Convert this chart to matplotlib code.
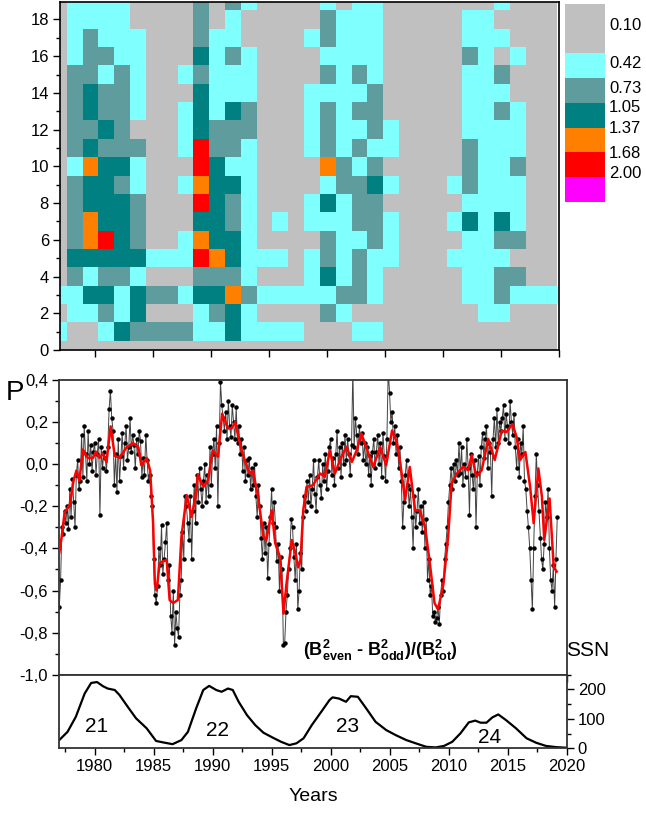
import numpy as np
import matplotlib
matplotlib.use('Agg')
import matplotlib.pyplot as plt
from matplotlib.colors import ListedColormap, BoundaryNorm
from matplotlib.ticker import MultipleLocator, FuncFormatter

plt.rcParams['font.family'] = ['Liberation Sans', 'DejaVu Sans']
plt.rcParams['mathtext.fontset'] = 'custom'
plt.rcParams['mathtext.rm'] = 'Liberation Sans'
plt.rcParams['mathtext.bf'] = 'Liberation Sans:bold'
plt.rcParams['mathtext.it'] = 'Liberation Sans:italic'

# ------------------------------------------------------------------ data
level_bounds = [0.10, 0.42, 0.73, 1.05, 1.37, 1.68, 2.00, 2.32]
level_labels = ['0.10', '0.42', '0.73', '1.05', '1.37', '1.68', '2.00']
level_colors = ['#c0c0c0', '#80ffff', '#5f9c9e', '#008080', '#ff8000', '#ff0000', '#ff00ff']
code_value = {'G': 0.26, 'C': 0.57, 'S': 0.89, 'T': 1.21, 'O': 1.52, 'R': 1.84, 'M': 2.16}

# rows from bottom (0) to top (19); 32 time bins each
heat_rows = [
    "GGGGGGGGGGGGGGGGGGGGGGGGGGGGGGGG",  # 0
    "CGGCTSSSSCCTCCCCGGGCCGGGGGGGGGGG",  # 1
    "GCCSCTGGGCSTCGGGGSCGGGGGGGGCCGGG",  # 2
    "CCTTCTSSCTTOSCCCCCSSCGGGGGCCSCCC",  # 3
    "GSCSSCGGGSSSCGGGCTCSCGGGGGCCSSGG",  # 4
    "GTTTTTCCCROTCCCGCSCSCCGGGCCCCGGG",  # 5
    "GSORTSGGCOTTCGGGGSCCSCGGGGCCSSGG",  # 6
    "GSOTTSGGGTTSCGCGCCCSSCGGGCTCTCGG",  # 7
    "GSTTTSGGGRTSCGGGCTCSSGGGGGCCCCGG",  # 8
    "GSTTSCGGCOTTCGGGGCSSTCGGGCSCCCGG",  # 9
    "GCOTTCGGGRTCCGGGGOSCSGGGGGSCCSGG",  # 10
    "GSTSSSGGCRSSCGGGCSCSCCGGGGSCCCGG",  # 11
    "GSSTSGGGCTSSSGGGCSCCSCGGGGCCCCGG",  # 12
    "GSTSSCGGCTCTSGGGCSCSSGGGGGCCSCGG",  # 13
    "GSTSSCGGGTCCCGGGCCCCSGGGGGCCCGGG",  # 14
    "GSSCSCGGCSCCCGGGGSCSCGGGGGCCSGGG",  # 15
    "GCSSCCGGGTCSCGGGGCCCCGGGGGSCGCGG",  # 16
    "GCSCCCGGGSCCGGGGCSCCCGGGGGCCCGGG",  # 17
    "GCCCCGGGGSGCGGGGGSCCCGGGGGCCGGGG",  # 18
    "GCCCCGGGGSGSCGGGGCGCCGGGGGGGCGGG",  # 19
]
heat_first_edge = 1976.215   # year of the left edge of the first bin
heat_bin_width = 1.3652      # years per bin

# P = (B2even - B2odd)/B2tot, raw values (about 9 per year, 1977.0 .. 2019.2)
p_raw = [
    -0.68, -0.55, -0.30, -0.33, -0.22, -0.28, -0.20, -0.31, -0.12,   # 1977
    -0.25, -0.07, -0.18, -0.30, -0.05, 0.02, -0.12, -0.08, 0.14,     # 1978
    -0.06, 0.18, 0.05, -0.08, 0.16, 0.00, 0.09, -0.03, 0.06,         # 1979
    0.10, -0.05, 0.05, 0.12, -0.24, 0.08, -0.02, 0.06, 0.03,         # 1980
    -0.03, 0.08, 0.26, 0.35, 0.22, 0.16, -0.10, 0.05, -0.13,         # 1981
    0.12, -0.08, 0.04, 0.15, -0.02, 0.10, 0.18, 0.02, 0.08,          # 1982
    0.22, 0.06, 0.14, 0.09, -0.02, 0.12, 0.05, 0.16, 0.11,           # 1983
    -0.06, 0.03, -0.05, 0.14, 0.02, -0.08, -0.05, -0.15, -0.20,      # 1984
    -0.45, -0.62, -0.66, -0.58, -0.40, -0.48, -0.29, -0.52, -0.45,   # 1985
    -0.37, -0.28, -0.55, -0.48, -0.72, -0.80, -0.60, -0.86, -0.70,   # 1986
    -0.78, -0.82, -0.62, -0.55, -0.32, -0.45, -0.15, -0.20, -0.28,   # 1987
    -0.36, -0.15, -0.45, -0.22, -0.10, -0.28, -0.05, -0.18, -0.02,   # 1988
    -0.12, -0.20, -0.08, 0.00, -0.18, -0.05, -0.15, 0.08, -0.10,     # 1989
    0.05, 0.12, -0.02, 0.18, -0.20, 0.10, 0.39, 0.28, 0.22,          # 1990
    0.16, 0.25, 0.12, 0.30, 0.18, 0.13, 0.28, 0.20, 0.12,            # 1991
    0.27, 0.10, 0.18, 0.05, 0.12, -0.03, 0.08, -0.08, 0.02,          # 1992
    -0.05, 0.03, -0.12, -0.02, -0.10, 0.00, -0.15, -0.25, -0.10,     # 1993
    -0.20, -0.35, -0.45, -0.28, -0.42, -0.30, -0.54, -0.38, -0.25,   # 1994
    -0.12, -0.28, -0.18, -0.30, -0.46, -0.38, -0.60, -0.44, -0.50,   # 1995
    -0.86, -0.85, -0.70, -0.62, -0.50, -0.40, -0.26, -0.30, -0.44,   # 1996
    -0.55, -0.38, -0.69, -0.60, -0.42, -0.50, -0.25, -0.15, -0.22,   # 1997
    -0.08, -0.18, -0.05, -0.20, -0.12, 0.02, -0.14, -0.22, -0.06,    # 1998
    0.02, -0.10, -0.16, 0.00, -0.08, 0.05, -0.12, -0.03, 0.08,       # 1999
    0.12, -0.05, 0.03, -0.10, 0.05, 0.16, -0.02, 0.08, -0.06,        # 2000
    0.10, 0.00, 0.14, 0.02, 0.12, 0.05, -0.05, 0.09, 0.45,           # 2001
    0.08, 0.22, 0.14, 0.05, 0.18, 0.10, 0.15, 0.02, 0.10,            # 2002
    0.00, 0.08, -0.05, 0.04, -0.10, 0.06, 0.12, -0.02, 0.06,         # 2003
    0.14, 0.00, 0.10, -0.06, 0.15, 0.04, -0.08, 0.12, 0.45,          # 2004
    0.34, 0.20, 0.25, 0.10, 0.18, 0.05, 0.14, -0.02, 0.08,           # 2005
    -0.08, -0.30, -0.18, -0.05, 0.02, -0.10, -0.20, -0.12, -0.25,    # 2006
    -0.40, -0.15, -0.30, -0.22, -0.12, -0.28, -0.20, -0.32, -0.18,   # 2007
    -0.40, -0.26, -0.55, -0.45, -0.62, -0.58, -0.72, -0.70, -0.75,   # 2008
    -0.73, -0.68, -0.76, -0.62, -0.55, -0.60, -0.45, -0.38, -0.30,   # 2009
    -0.18, -0.10, -0.02, -0.12, 0.00, -0.08, 0.02, -0.05, 0.10,      # 2010
    -0.04, 0.08, -0.10, 0.00, -0.06, 0.12, -0.02, -0.24, 0.05,       # 2011
    -0.05, -0.12, 0.02, -0.30, -0.04, 0.04, -0.10, 0.08, 0.15,       # 2012
    0.03, 0.12, 0.18, -0.02, 0.10, 0.06, -0.15, 0.12, 0.22,          # 2013
    0.08, 0.26, 0.10, 0.20, 0.16, 0.22, 0.28, 0.12, 0.24,            # 2014
    0.18, 0.10, 0.30, 0.20, 0.14, 0.24, 0.08, -0.02, 0.12,           # 2015
    -0.06, 0.10, 0.05, 0.18, -0.08, -0.12, -0.22, -0.30, -0.40,      # 2016
    -0.55, -0.69, -0.40, -0.15, 0.05, -0.10, -0.22, -0.35, -0.45,    # 2017
    -0.50, -0.38, -0.18, -0.25, -0.12, -0.40, -0.55, -0.60, -0.48,   # 2018
    -0.68, -0.45, -0.25,                                             # 2019
]
p_start, p_end = 1977.0, 2019.2

# smoothed P (red curve)
red_years = [1977.0, 1977.2, 1977.45, 1977.9, 1978.2, 1978.45, 1978.7, 1979.0, 1979.4,
             1979.85, 1980.1, 1980.4, 1980.7, 1981.0, 1981.35, 1981.7, 1982.1, 1982.7,
             1983.25, 1983.7, 1983.95, 1984.4, 1984.7, 1984.95, 1985.1, 1985.25, 1985.5,
             1985.8, 1986.1, 1986.35, 1986.65, 1987.05, 1987.35, 1987.8, 1988.2, 1988.5,
             1988.75, 1989.2, 1989.6, 1990.0, 1990.45, 1990.8, 1991.3, 1991.6, 1991.9,
             1992.45, 1992.9, 1993.15, 1993.4, 1993.85, 1994.3, 1994.55, 1995.0, 1995.3,
             1995.7, 1996.0, 1996.25, 1996.7, 1996.95, 1997.25, 1997.45, 1997.67, 1997.95,
             1998.5, 1999.1, 1999.5, 1999.93, 2000.36, 2000.9, 2001.35, 2001.8, 2002.2,
             2002.6, 2003.05, 2003.6, 2004.2, 2004.7, 2005.2, 2005.6, 2005.9, 2006.3,
             2006.7, 2007.15, 2007.55, 2008.0, 2008.4, 2008.8, 2009.1, 2009.55, 2009.95,
             2010.25, 2010.7, 2011.2, 2011.65, 2011.95, 2012.35, 2012.8, 2013.35, 2013.9,
             2014.5, 2014.9, 2015.4, 2015.75, 2016.05, 2016.5, 2016.9, 2017.2, 2017.6,
             2017.9, 2018.1, 2018.55, 2018.9, 2019.15]
red_vals = [-0.42, -0.345, -0.23, -0.19, -0.08, -0.03, -0.08, 0.07, 0.03,
            0.03, 0.06, 0.03, 0.05, 0.01, 0.18, 0.04, 0.03, 0.08,
            0.10, 0.08, -0.005, 0.03, -0.03, -0.28, -0.57, -0.60, -0.47,
            -0.46, -0.455, -0.645, -0.66, -0.645, -0.345, -0.147, -0.25, -0.17,
            -0.05, -0.108, -0.076, 0.066, 0.035, 0.24, 0.17, 0.17, 0.20,
            0.066, -0.013, -0.044, -0.03, -0.155, -0.345, -0.36, -0.22, -0.376,
            -0.44, -0.71, -0.57, -0.36, -0.41, -0.49, -0.45, -0.22, -0.108,
            -0.10, -0.044, -0.06, 0.066, -0.044, 0.035, 0.082, 0.011, 0.066,
            0.146, 0.075, -0.013, 0.082, -0.005, 0.16, 0.106, 0.003, -0.17,
            -0.013, -0.22, -0.22, -0.30, -0.47, -0.66, -0.69, -0.57, -0.345,
            -0.09, -0.044, -0.013, -0.028, 0.043, -0.06, -0.028, 0.12, 0.02,
            0.16, 0.153, 0.19, 0.13, 0.02, 0.058, -0.108, -0.28, -0.02,
            -0.155, -0.36, -0.163, -0.49, -0.51]

# smoothed sunspot number
ssn_years = [1977.0, 1977.7, 1978.4, 1979.15, 1979.7, 1980.2, 1980.7, 1981.1, 1981.7, 1982.1,
             1982.8, 1983.5, 1984.4, 1985.2, 1985.8, 1986.6, 1987.35, 1987.9, 1988.6, 1989.2,
             1989.7, 1990.3, 1990.75, 1991.3, 1991.7, 1992.2, 1992.9, 1993.6, 1994.3, 1995.1,
             1995.8, 1996.5, 1997.1, 1997.7, 1998.4, 1999.2, 1999.9, 2000.16, 2000.7, 2001.3,
             2001.7, 2002.3, 2003.0, 2003.8, 2004.7, 2005.5, 2006.4, 2007.2, 2008.1, 2008.9,
             2009.6, 2010.3, 2011.0, 2011.7, 2012.25, 2012.7, 2013.2, 2013.7, 2014.2, 2014.85,
             2015.7, 2016.6, 2017.4, 2018.25, 2019.1, 2019.95]
ssn_vals = [28, 56, 107, 186, 222, 225, 211, 203, 198, 181,
            141, 102, 68, 25, 20, 14, 28, 56, 136, 198,
            212, 198, 192, 203, 198, 158, 113, 79, 53, 36,
            22, 11, 17, 34, 79, 124, 164, 173, 169, 158,
            177, 175, 136, 90, 62, 45, 28, 17, 5, 3,
            8, 22, 51, 88, 94, 87, 87, 105, 115, 96,
            68, 34, 19, 8, 4, 2]

cycle_names = ['21', '22', '23', '24']
cycle_x = [1980.2, 1990.4, 2001.4, 2013.5]
cycle_y = [73, 62, 75, 37]

x_ticks = [1980, 1985, 1990, 1995, 2000, 2005, 2010, 2015, 2020]

# ------------------------------------------------------------------ figure
W, H = 646, 813
fig = plt.figure(figsize=(W / 100, H / 100), dpi=100)

def box(l, t, r, b):
    return [l / W, 1 - b / H, (r - l) / W, (b - t) / H]

cmap = ListedColormap(level_colors)
norm = BoundaryNorm(level_bounds, cmap.N)

# ---- heat map
ax1 = fig.add_axes(box(60, 2, 558.5, 350))
Z = np.array([[code_value[c] for c in row] for row in heat_rows])
xedges = heat_first_edge + heat_bin_width * np.arange(Z.shape[1] + 1)
yedges = np.arange(Z.shape[0] + 1) - 0.5
ax1.pcolormesh(xedges, yedges, Z, cmap=cmap, norm=norm, shading='flat')
ax1.set_xlim(1977, 2020)
ax1.set_ylim(0, 18.95)
ax1.set_xticks(x_ticks)
ax1.set_xticklabels([])
ax1.yaxis.set_major_locator(MultipleLocator(2))
ax1.yaxis.set_minor_locator(MultipleLocator(1))
ax1.tick_params(axis='both', which='major', direction='out', length=5, width=1.0,
                labelsize=12, pad=3)
ax1.tick_params(axis='y', which='minor', direction='out', length=3, width=1.0)
for s in ax1.spines.values():
    s.set_linewidth(1.2)

# ---- colour scale
axc = fig.add_axes(box(565, 4, 605, 201.7))
cb_edges = [0, 1, 2, 3, 4, 5, 6, 8]
cb_vals = np.array([[v] for v in [2.16, 1.84, 1.52, 1.21, 0.89, 0.57, 0.26]])
axc.pcolormesh([0, 1], cb_edges, cb_vals, cmap=cmap, norm=norm)
axc.set_xlim(0, 1)
axc.set_ylim(0, 8)
axc.axis('off')
cb_label_pos = [7.15, 5.61, 4.60, 3.82, 2.97, 1.96, 1.15]
for lab, yy in zip(level_labels, cb_label_pos):
    axc.text(1.1, yy, lab, fontsize=12, ha='left', va='center')

# ---- P panel
ax2 = fig.add_axes(box(59.3, 380, 566.7, 674.7))
p_years = np.linspace(p_start, p_end, len(p_raw))
ax2.plot(p_years, p_raw, color='#444444', lw=0.7, marker='o', ms=2.2,
         mfc='black', mec='black', zorder=2)
ax2.plot(red_years, red_vals, color='#ff0000', lw=1.8, zorder=3)
ax2.set_xlim(1977, 2020)
ax2.set_ylim(-1.0, 0.4)
ax2.set_xticks(x_ticks)
ax2.set_xticklabels([])
ax2.yaxis.set_major_locator(MultipleLocator(0.2))
ax2.yaxis.set_minor_locator(MultipleLocator(0.1))
ax2.yaxis.set_major_formatter(FuncFormatter(
    lambda v, _: ('%.1f' % (round(v, 1) + 0.0)).replace('.', ',').replace('-0,0', '0,0')))
ax2.tick_params(axis='both', which='major', direction='out', length=5, width=1.0,
                labelsize=12, pad=3)
ax2.tick_params(axis='y', which='minor', direction='out', length=3, width=1.0)
for s in ax2.spines.values():
    s.set_linewidth(1.3)
    s.set_color('#333333')
ax2.text(2004.2, -0.885,
         r'(B$^{\mathbf{2}}_{\mathbf{even}}$ - B$^{\mathbf{2}}_{\mathbf{odd}}$)/(B$^{\mathbf{2}}_{\mathbf{tot}}$)',
         fontsize=13, fontweight='bold', ha='center', va='center')
fig.text(15 / W, 1 - 393 / H, 'P', fontsize=20, ha='center', va='center')
fig.text(588 / W, 1 - 650 / H, 'SSN', fontsize=15, ha='center', va='center')

# ---- SSN panel
ax3 = fig.add_axes(box(59.3, 674.7, 566.7, 748.3))
ax3.plot(ssn_years, ssn_vals, color='black', lw=1.6)
ax3.set_xlim(1977, 2020)
ax3.set_ylim(0, 250)
ax3.set_xticks(x_ticks)
ax3.xaxis.set_minor_locator(MultipleLocator(2.5))
ax3.yaxis.tick_right()
ax3.set_yticks([0, 100, 200])
ax3.yaxis.set_minor_locator(MultipleLocator(50))
ax3.tick_params(axis='both', which='major', direction='out', length=5, width=1.0,
                labelsize=12, pad=3)
ax3.tick_params(axis='both', which='minor', direction='out', length=3, width=1.0)
for s in ax3.spines.values():
    s.set_linewidth(1.3)
    s.set_color('#333333')
for name, cx, cy in zip(cycle_names, cycle_x, cycle_y):
    ax3.text(cx, cy, name, fontsize=15, ha='center', va='center')
ax3.set_xlabel('Years', fontsize=14, labelpad=10)

fig.savefig('out.png', dpi=100)
